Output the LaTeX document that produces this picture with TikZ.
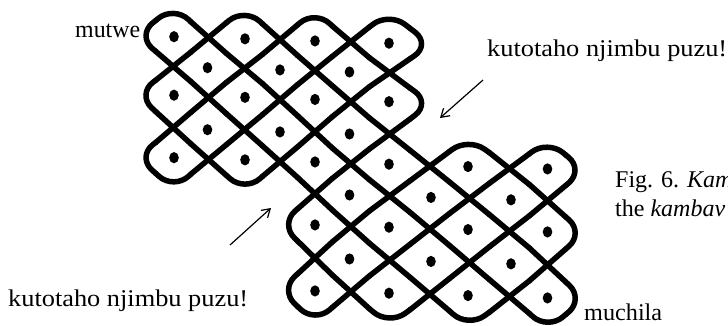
\documentclass[tikz,border=0pt]{standalone}
\usepackage{fontspec}
\setmainfont{Liberation Serif}
\usetikzlibrary{calc,arrows.meta}
\tikzset{
  cord/.style={line width=5.5pt, line cap=round, line join=round},
  turnarc/.style={cord, rounded corners=20pt},
  lbl/.style={anchor=base west, inner sep=0pt},
  pointer/.style={line width=1.2pt, -{Straight Barb[length=8pt,width=10pt]}},
}
\newcommand\inU[2]{((((#1)>-0.25)&&((#1)<8.25)&&((#2)>-0.25)&&((#2)<6.25))||(((#1)>3.75)&&((#1)<12.25)&&((#2)>3.75)&&((#2)<10.25)))}
\newcommand\lblsize{\fontsize{24}{28}\selectfont}
\newcommand\wtx[2]{\resizebox{#1}{\height}{\lblsize #2}}
\newcommand\stx[1]{{\lblsize #1}}
\begin{document}
\begin{tikzpicture}[x=1pt,y=-1pt]
\useasboundingbox (0,0) rectangle (728,325);
\def\xs{{137,174,207.5,245,280,315,349.5,389,431,468,511,547.5,584}}
\def\ys{{11,42,72,100.5,134,163,195,226,259,292,324}}
% lattice points
\foreach \I in {0,...,12}{
  \foreach \J in {0,...,10}{
    \pgfmathsetmacro\px{\xs[\I]}
    \pgfmathsetmacro\py{\ys[\J]+0.03*(\px-350)}
    \coordinate (p-\I-\J) at (\px,\py);
  }
}
% cords
\foreach \I in {0,...,12}{
  \foreach \J in {0,...,10}{
    \pgfmathtruncatemacro\isodd{mod(\I+\J,2)}
    \ifnum\isodd=1
      \pgfmathtruncatemacro\sA{\inU{\I+0.5}{\J+0.5}}
      \pgfmathtruncatemacro\sB{\inU{\I+0.5}{\J-0.5}}
      \pgfmathtruncatemacro\sC{\inU{\I-0.5}{\J+0.5}}
      \pgfmathtruncatemacro\sD{\inU{\I-0.5}{\J-0.5}}
      \pgfmathtruncatemacro\Ip{\I+1}
      \pgfmathtruncatemacro\Im{\I-1}
      \pgfmathtruncatemacro\Jp{\J+1}
      \pgfmathtruncatemacro\Jm{\J-1}
      \pgfmathtruncatemacro\dg{\sA+\sB+\sC+\sD}
      \pgfmathtruncatemacro\code{8*\sA+4*\sB+2*\sC+\sD}
      \ifnum\sA=1 \coordinate (ma) at ($(p-\I-\J)!0.5!(p-\Ip-\Jp)$); \fi
      \ifnum\sB=1 \coordinate (mb) at ($(p-\I-\J)!0.5!(p-\Ip-\Jm)$); \fi
      \ifnum\sC=1 \coordinate (mc) at ($(p-\I-\J)!0.5!(p-\Im-\Jp)$); \fi
      \ifnum\sD=1 \coordinate (md) at ($(p-\I-\J)!0.5!(p-\Im-\Jm)$); \fi
      \ifnum\dg=4
        \draw[cord] (ma) -- (md);
        \draw[cord] (mb) -- (mc);
      \fi
      \ifnum\code=10 \draw[turnarc] (mc) -- (p-\I-\J) -- (ma); \fi
      \ifnum\code=12 \draw[turnarc] (mb) -- (p-\I-\J) -- (ma); \fi
      \ifnum\code=3  \draw[turnarc] (md) -- (p-\I-\J) -- (mc); \fi
      \ifnum\code=5  \draw[turnarc] (md) -- (p-\I-\J) -- (mb); \fi
    \fi
  }
}
% dots
\foreach \I in {1,...,11}{
  \foreach \J in {1,...,9}{
    \pgfmathtruncatemacro\ev{1-mod(\I+\J,2)}
    \pgfmathtruncatemacro\indot{\ev && ((((\I)<7.5)&&((\J)<5.5)) || (((\I)>4.5)&&((\J)>4.5)))}
    \ifnum\indot=1 \fill (p-\I-\J) ellipse [x radius=4.8pt, y radius=5.6pt]; \fi
  }
}
% labels
\node[lbl] (mutwe) at (75,37) {\wtx{65pt}{mutwe}};
\node[lbl] (kt1) at (487,56) {\wtx{240pt}{kutotaho njimbu puzu!}};
\node[lbl] (kt2) at (8,306) {\wtx{240pt}{kutotaho njimbu puzu!}};
\node[lbl] (fig1) at (615,187) {\stx{Fig. 6. \textit{Kam}}};
\node[lbl] (fig2) at (615,216) {\stx{the \textit{kambav}}};
\node[lbl] (much) at (584,320) {\wtx{78pt}{muchila}};
% arrows
\coordinate (a1s) at (483,80);
\coordinate (a1t) at (440,118);
\draw[pointer] (a1s) -- (a1t);
\coordinate (a2s) at (230,245);
\coordinate (a2t) at (271,208);
\draw[pointer] (a2s) -- (a2t);
\end{tikzpicture}
\end{document}
